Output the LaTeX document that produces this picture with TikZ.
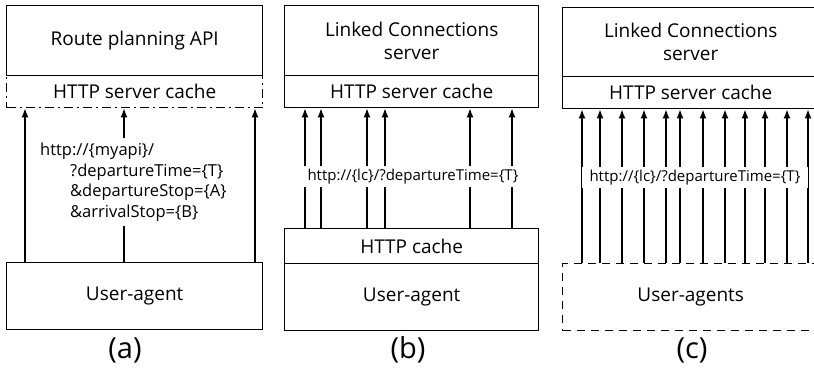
\documentclass[tikz,border=0pt]{standalone}
\usepackage{fontspec}
\setmainfont{Open Sans}
\usetikzlibrary{arrows.meta}
\tikzset{
  box/.style={draw, line width=1.4pt, inner sep=0pt, anchor=north west, align=center, font=\fontsize{19}{23}\selectfont},
  arr/.style={-{Latex[length=9pt,width=7pt]}, line width=1.4pt},
  url/.style={fill=white, inner xsep=8pt, inner ysep=3pt, font=\fontsize{15}{20}\selectfont},
  captext/.style={font=\fontsize{29}{33}\selectfont},
  dashdotbox/.style={dash pattern=on 9pt off 4pt on 2pt off 4pt},
  dashbox/.style={dash pattern=on 8pt off 6pt}
}
\begin{document}
\begin{tikzpicture}[x=1pt,y=-1pt]
\useasboundingbox (0,0) rectangle (814,371);
\clip (0,0) rectangle (814,371);
% (a)
\node[box, dashdotbox, minimum width=256pt, minimum height=32pt] (cacheA) at (6,75) {HTTP server cache};
\node[box, minimum width=256pt, minimum height=70pt] (apiA) at (6,5) {Route planning API};
\node[box, minimum width=256pt, minimum height=67pt] (uaA) at (6,262) {User-agent};
\foreach \dx in {19,118,249}
  \draw[arr] ([xshift=\dx pt]uaA.north west) -- ([xshift=\dx pt]cacheA.south west);
\node[url, anchor=north west, align=left, inner xsep=4pt, inner ysep=5pt, font=\fontsize{16.5}{20.5}\selectfont] (urlA) at (36,138)
  {http://\{myapi\}/\\\hspace*{30pt}?departureTime=\{T\}\\\hspace*{30pt}\&departureStop=\{A\}\\\hspace*{30pt}\&arrivalStop=\{B\}};
\node[captext] (capA) at (125,350) {(a)};
% (b)
\node[box, minimum width=254pt, minimum height=70pt] (srvB) at (284,5) {Linked Connections\\server};
\node[box, minimum width=254pt, minimum height=32pt] (cacheB) at (284,75) {HTTP server cache};
\node[box, minimum width=254pt, minimum height=35pt] (hcB) at (284,228) {HTTP cache};
\node[box, minimum width=254pt, minimum height=67pt] (uaB) at (284,263) {User-agent};
\foreach \dx in {21,37,83,101,186,228}
  \draw[arr] ([xshift=\dx pt]hcB.north west) -- ([xshift=\dx pt]cacheB.south west);
\node[url] (urlB) at (413,177) {http://\{lc\}/?departureTime=\{T\}};
\node[captext] (capB) at (408,350) {(b)};
% (c)
\node[box, minimum width=256pt, minimum height=69pt] (srvC) at (562,7) {Linked Connections\\server};
\node[box, minimum width=256pt, minimum height=32pt] (cacheC) at (562,76) {HTTP server cache};
\node[box, dashbox, minimum width=256pt, minimum height=67pt] (uaC) at (562,263) {User-agents};
\foreach \dx in {20,38,60,82,104,118,141,163,183,203,225,246}
  \draw[arr] ([xshift=\dx pt]uaC.north west) -- ([xshift=\dx pt]cacheC.south west);
\node[url] (urlC) at (695,178) {http://\{lc\}/?departureTime=\{T\}};
\node[captext] (capC) at (692,350) {(c)};
\end{tikzpicture}
\end{document}
